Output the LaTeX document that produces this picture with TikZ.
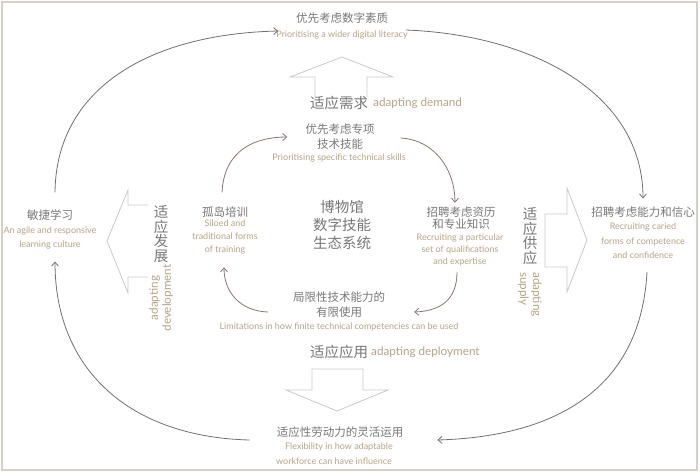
\documentclass[tikz,border=0pt]{standalone}
\usepackage{fontspec}
\setmainfont{Lato}
\newfontfamily\cjk{Noto Sans CJK SC}
\newfontfamily\en{Lato}
\usetikzlibrary{arrows.meta}
\definecolor{cgray}{HTML}{777777}
\definecolor{ctan}{HTML}{B8A283}
\definecolor{cbrown}{HTML}{8C7470}
\definecolor{arcgray}{HTML}{707070}
\definecolor{blockgray}{HTML}{C8C8C8}
\definecolor{framec}{HTML}{D6CFC4}
\tikzset{
  cn/.style={font=\cjk\fontsize{11.5}{15}\selectfont, text=cgray, inner sep=0pt, align=center},
  cnbig/.style={font=\cjk\fontsize{14.5}{18}\selectfont, text=cgray, inner sep=0pt, align=center},
  ensm/.style={font=\en\fontsize{9}{13}\selectfont, text=ctan, inner sep=0pt, align=center},
  enmid/.style={font=\en\fontsize{9}{14.5}\selectfont, text=ctan, inner sep=0pt, align=center},
  enbig/.style={font=\en\fontsize{11.7}{13}\selectfont, text=ctan, inner sep=0pt, align=center},
  outerarc/.style={draw=arcgray, line width=0.8pt, -{Straight Barb[length=4pt,width=7pt]}},
  innerarc/.style={draw=cbrown, line width=0.8pt, -{Straight Barb[length=4pt,width=7pt]}},
  blockarrow/.style={draw=blockgray, line width=0.8pt, line join=miter}
}
\begin{document}
\begin{tikzpicture}[x=1pt,y=-1pt]
\useasboundingbox (0,0) rectangle (700,472);
\draw[framec, line width=1.3pt] (2,2) rectangle (697,470);

% block arrows
\draw[blockarrow] (315,97) -- (315,77) -- (290,77) -- (342,57) -- (393,77) -- (367,77) -- (367,97);
\draw[blockarrow] (312,369) -- (363,369) -- (363,390) -- (388,390) -- (337,411) -- (286,390) -- (312,390) -- cycle;
\draw[blockarrow] (148,205) -- (128,205) -- (128,190) -- (107,241) -- (128,293) -- (128,277) -- (148,277);
\draw[blockarrow] (545,214) -- (567,214) -- (567,188) -- (587,240) -- (567,292) -- (567,267) -- (545,267) -- cycle;

% outer labels
\node[cn] (topT) at (342,18) {优先考虑数字素质};
\node[ensm] (topE) at (342,35) {Prioritising a wider digital literacy};
\node[cn] (agileT) at (50,215) {敏捷学习};
\node[enmid] (agileE) at (50,238) {An agile and responsive\\learning culture};
\node[cn] (rcT) at (643,212) {招聘考虑能力和信心};
\node[enmid] (rcE) at (643,241) {Recruiting caried\\forms of competence\\and confidence};
\node[cn] (botT) at (340,432) {适应性劳动力的灵活运用};
\node[ensm] (botE1) at (339,447) {Flexibility in how adaptable};
\node[ensm] (botE2) at (334,461) {workforce can have influence};

% adapting labels
\node[cnbig] (demT) at (339,103) {适应需求};
\node[enbig, anchor=west] (demE) at (373,103) {adapting demand};
\node[cnbig] (depT) at (339,352) {适应应用};
\node[enbig, anchor=west] (depE) at (371,352) {adapting deployment};
\node[cnbig, font=\cjk\fontsize{14.5}{14.5}\selectfont] (devT) at (161,234) {适\\应\\发\\展};
\node[enbig, rotate=90] (devE) at (161,298) {adapting\\development};
\node[cnbig, font=\cjk\fontsize{14.5}{14.5}\selectfont] (supT) at (530,236) {适\\应\\供\\应};
\node[enbig, rotate=-90, anchor=west, align=left] (supE) at (530,272) {adapting\\supply};

% inner labels
\node[cn] (psT) at (340,137) {优先考虑专项\\技术技能};
\node[ensm] (psE) at (339,158) {Prioritising specific technical skills};
\node[cnbig] (core) at (342,225) {博物馆\\数字技能\\生态系统};
\node[cn] (siloT) at (225,212) {孤岛培训};
\node[ensm] (siloE) at (225,237) {Siloed and\\traditional forms\\of training};
\node[cn, font=\cjk\fontsize{11.5}{11.5}\selectfont] (recT) at (461,218) {招聘考虑资历\\和专业知识};
\node[ensm, font=\en\fontsize{9}{12}\selectfont] (recE) at (460,250) {Recruiting a particular\\set of qualifications\\and expertise};
\node[cn] (limT) at (339,305) {局限性技术能力的\\有限使用};
\node[ensm] (limE) at (339,327) {Limitations in how finite technical competencies can be used};

% outer cycle
\draw[outerarc] ([shift={(5,-17)}]agileT.north) .. controls (56,88) and (150,34) .. ([shift={(2,-4)}]topE.west);
\draw[outerarc] ([shift={(-2,-5)}]topE.east) .. controls (535,35) and (643,95) .. ([shift={(0,-8)}]rcT.north);
\draw[outerarc] ([shift={(4,13)}]rcE.south) .. controls (640,400) and (540,437) .. ([shift={(34,8)}]botT.east);
\draw[outerarc] ([shift={(-27,8)}]botT.west) .. controls (130,437) and (55,370) .. ([shift={(5,12)}]agileE.south);

% inner cycle
\draw[innerarc] ([shift={(-3,-14)}]siloT.north) .. controls (224,150) and (255,137) .. ([shift={(-18,0)}]psT.west);
\draw[innerarc] ([shift={(26,1)}]psT.east) .. controls (435,140) and (455,170) .. ([shift={(-6,-4)}]recT.north);
\draw[innerarc] ([shift={(-3,6)}]recE.south) .. controls (457,300) and (440,311) .. ([shift={(29,7)}]limT.east);
\draw[innerarc] ([shift={(-25,7)}]limT.west) .. controls (240,311) and (224,292) .. ([shift={(-1,13)}]siloE.south);
\end{tikzpicture}
\end{document}
